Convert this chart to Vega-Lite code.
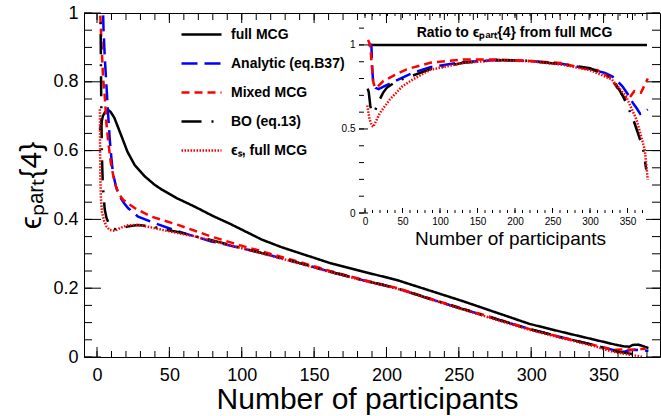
{
  "$schema": "https://vega.github.io/schema/vega-lite/v6.json",
  "width": 576,
  "height": 344,
  "autosize": {"type": "none"},
  "padding": {"left": 84, "top": 13, "right": 1, "bottom": 59},
  "background": "white",
  "config": {"view": {"stroke": "#000000", "strokeWidth": 1}, "axis": {"grid": false}},
  "datasets": {
    "xt_main": [
      {"v": 0}, {"v": 10}, {"v": 20}, {"v": 30}, {"v": 40}, {"v": 50}, {"v": 60}, {"v": 70}, {"v": 80}, {"v": 90},
      {"v": 100}, {"v": 110}, {"v": 120}, {"v": 130}, {"v": 140}, {"v": 150}, {"v": 160}, {"v": 170}, {"v": 180}, {"v": 190},
      {"v": 200}, {"v": 210}, {"v": 220}, {"v": 230}, {"v": 240}, {"v": 250}, {"v": 260}, {"v": 270}, {"v": 280}, {"v": 290},
      {"v": 300}, {"v": 310}, {"v": 320}, {"v": 330}, {"v": 340}, {"v": 350}, {"v": 360}, {"v": 370}, {"v": 380}
    ],
    "yt_main": [
      {"v": 0}, {"v": 0.05}, {"v": 0.1}, {"v": 0.15}, {"v": 0.2}, {"v": 0.25}, {"v": 0.3}, {"v": 0.35}, {"v": 0.4}, {"v": 0.45},
      {"v": 0.5}, {"v": 0.55}, {"v": 0.6}, {"v": 0.65}, {"v": 0.7}, {"v": 0.75}, {"v": 0.8}, {"v": 0.85}, {"v": 0.9}, {"v": 0.95}, {"v": 1}
    ],
    "yt_inset": [
      {"v": 0}, {"v": 0.1}, {"v": 0.2}, {"v": 0.3}, {"v": 0.4}, {"v": 0.5}, {"v": 0.6}, {"v": 0.7}, {"v": 0.8}, {"v": 0.9}, {"v": 1}, {"v": 1.1}
    ],
    "main": [
      {"series": "full MCG", "npart": 2, "eps": 0.66},
      {"series": "full MCG", "npart": 3, "eps": 0.68},
      {"series": "full MCG", "npart": 4, "eps": 0.7},
      {"series": "full MCG", "npart": 5.5, "eps": 0.712},
      {"series": "full MCG", "npart": 7.5, "eps": 0.719},
      {"series": "full MCG", "npart": 9.5, "eps": 0.712},
      {"series": "full MCG", "npart": 12, "eps": 0.695},
      {"series": "full MCG", "npart": 14.5, "eps": 0.668},
      {"series": "full MCG", "npart": 17, "eps": 0.641},
      {"series": "full MCG", "npart": 21, "eps": 0.597},
      {"series": "full MCG", "npart": 26, "eps": 0.558},
      {"series": "full MCG", "npart": 33, "eps": 0.525},
      {"series": "full MCG", "npart": 40, "eps": 0.5},
      {"series": "full MCG", "npart": 45, "eps": 0.486},
      {"series": "full MCG", "npart": 55, "eps": 0.462},
      {"series": "full MCG", "npart": 68, "eps": 0.436},
      {"series": "full MCG", "npart": 80, "eps": 0.41},
      {"series": "full MCG", "npart": 91, "eps": 0.389},
      {"series": "full MCG", "npart": 103, "eps": 0.364},
      {"series": "full MCG", "npart": 114, "eps": 0.341},
      {"series": "full MCG", "npart": 127, "eps": 0.32},
      {"series": "full MCG", "npart": 140, "eps": 0.302},
      {"series": "full MCG", "npart": 161, "eps": 0.273},
      {"series": "full MCG", "npart": 184, "eps": 0.248},
      {"series": "full MCG", "npart": 207, "eps": 0.224},
      {"series": "full MCG", "npart": 230, "eps": 0.193},
      {"series": "full MCG", "npart": 253, "eps": 0.162},
      {"series": "full MCG", "npart": 276, "eps": 0.129},
      {"series": "full MCG", "npart": 299, "eps": 0.096},
      {"series": "full MCG", "npart": 322, "eps": 0.072},
      {"series": "full MCG", "npart": 345, "eps": 0.049},
      {"series": "full MCG", "npart": 358, "eps": 0.036},
      {"series": "full MCG", "npart": 364, "eps": 0.031},
      {"series": "full MCG", "npart": 368, "eps": 0.03},
      {"series": "full MCG", "npart": 370, "eps": 0.035},
      {"series": "full MCG", "npart": 374, "eps": 0.036},
      {"series": "full MCG", "npart": 377, "eps": 0.032},
      {"series": "full MCG", "npart": 381, "eps": 0.026},

      {"series": "Analytic (eq.B37)", "npart": 3.8, "eps": 1.06},
      {"series": "Analytic (eq.B37)", "npart": 4.5, "eps": 0.95},
      {"series": "Analytic (eq.B37)", "npart": 5.5, "eps": 0.86},
      {"series": "Analytic (eq.B37)", "npart": 6.5, "eps": 0.79},
      {"series": "Analytic (eq.B37)", "npart": 7.6, "eps": 0.71},
      {"series": "Analytic (eq.B37)", "npart": 8.8, "eps": 0.632},
      {"series": "Analytic (eq.B37)", "npart": 10, "eps": 0.575},
      {"series": "Analytic (eq.B37)", "npart": 11, "eps": 0.535},
      {"series": "Analytic (eq.B37)", "npart": 13.4, "eps": 0.49},
      {"series": "Analytic (eq.B37)", "npart": 15.7, "eps": 0.467},
      {"series": "Analytic (eq.B37)", "npart": 18.5, "eps": 0.448},
      {"series": "Analytic (eq.B37)", "npart": 21.4, "eps": 0.433},
      {"series": "Analytic (eq.B37)", "npart": 28.4, "eps": 0.408},
      {"series": "Analytic (eq.B37)", "npart": 40, "eps": 0.389},
      {"series": "Analytic (eq.B37)", "npart": 56, "eps": 0.365},
      {"series": "Analytic (eq.B37)", "npart": 79, "eps": 0.336},
      {"series": "Analytic (eq.B37)", "npart": 91, "eps": 0.325},
      {"series": "Analytic (eq.B37)", "npart": 114, "eps": 0.302},
      {"series": "Analytic (eq.B37)", "npart": 140, "eps": 0.273},
      {"series": "Analytic (eq.B37)", "npart": 161, "eps": 0.248},
      {"series": "Analytic (eq.B37)", "npart": 185, "eps": 0.222},
      {"series": "Analytic (eq.B37)", "npart": 207, "eps": 0.2},
      {"series": "Analytic (eq.B37)", "npart": 230, "eps": 0.169},
      {"series": "Analytic (eq.B37)", "npart": 253, "eps": 0.139},
      {"series": "Analytic (eq.B37)", "npart": 276, "eps": 0.11},
      {"series": "Analytic (eq.B37)", "npart": 299, "eps": 0.081},
      {"series": "Analytic (eq.B37)", "npart": 322, "eps": 0.056},
      {"series": "Analytic (eq.B37)", "npart": 345, "eps": 0.033},
      {"series": "Analytic (eq.B37)", "npart": 352, "eps": 0.025},
      {"series": "Analytic (eq.B37)", "npart": 359, "eps": 0.018},
      {"series": "Analytic (eq.B37)", "npart": 364, "eps": 0.015},
      {"series": "Analytic (eq.B37)", "npart": 367, "eps": 0.019},
      {"series": "Analytic (eq.B37)", "npart": 371, "eps": 0.021},
      {"series": "Analytic (eq.B37)", "npart": 376, "eps": 0.02},
      {"series": "Analytic (eq.B37)", "npart": 381, "eps": 0.018},

      {"series": "Mixed MCG", "npart": 1.9, "eps": 1.03},
      {"series": "Mixed MCG", "npart": 3, "eps": 0.92},
      {"series": "Mixed MCG", "npart": 4.2, "eps": 0.81},
      {"series": "Mixed MCG", "npart": 5.3, "eps": 0.76},
      {"series": "Mixed MCG", "npart": 6.5, "eps": 0.68},
      {"series": "Mixed MCG", "npart": 7.6, "eps": 0.632},
      {"series": "Mixed MCG", "npart": 9.5, "eps": 0.565},
      {"series": "Mixed MCG", "npart": 12.2, "eps": 0.506},
      {"series": "Mixed MCG", "npart": 15, "eps": 0.475},
      {"series": "Mixed MCG", "npart": 18, "eps": 0.457},
      {"series": "Mixed MCG", "npart": 26, "eps": 0.433},
      {"series": "Mixed MCG", "npart": 37.6, "eps": 0.408},
      {"series": "Mixed MCG", "npart": 56, "eps": 0.384},
      {"series": "Mixed MCG", "npart": 79, "eps": 0.35},
      {"series": "Mixed MCG", "npart": 102, "eps": 0.321},
      {"series": "Mixed MCG", "npart": 114, "eps": 0.307},
      {"series": "Mixed MCG", "npart": 140, "eps": 0.276},
      {"series": "Mixed MCG", "npart": 161, "eps": 0.25},
      {"series": "Mixed MCG", "npart": 185, "eps": 0.223},
      {"series": "Mixed MCG", "npart": 207, "eps": 0.201},
      {"series": "Mixed MCG", "npart": 230, "eps": 0.17},
      {"series": "Mixed MCG", "npart": 253, "eps": 0.14},
      {"series": "Mixed MCG", "npart": 276, "eps": 0.111},
      {"series": "Mixed MCG", "npart": 299, "eps": 0.081},
      {"series": "Mixed MCG", "npart": 322, "eps": 0.056},
      {"series": "Mixed MCG", "npart": 345, "eps": 0.033},
      {"series": "Mixed MCG", "npart": 352, "eps": 0.026},
      {"series": "Mixed MCG", "npart": 358, "eps": 0.021},
      {"series": "Mixed MCG", "npart": 364, "eps": 0.022},
      {"series": "Mixed MCG", "npart": 370, "eps": 0.021},
      {"series": "Mixed MCG", "npart": 376, "eps": 0.023},
      {"series": "Mixed MCG", "npart": 379, "eps": 0.024},

      {"series": "BO (eq.13)", "npart": 2.3, "eps": 1.06},
      {"series": "BO (eq.13)", "npart": 2.7, "eps": 0.85},
      {"series": "BO (eq.13)", "npart": 3, "eps": 0.7},
      {"series": "BO (eq.13)", "npart": 3.4, "eps": 0.58},
      {"series": "BO (eq.13)", "npart": 4, "eps": 0.5},
      {"series": "BO (eq.13)", "npart": 5.3, "eps": 0.43},
      {"series": "BO (eq.13)", "npart": 6.5, "eps": 0.405},
      {"series": "BO (eq.13)", "npart": 8.8, "eps": 0.381},
      {"series": "BO (eq.13)", "npart": 11, "eps": 0.372},
      {"series": "BO (eq.13)", "npart": 15, "eps": 0.371},
      {"series": "BO (eq.13)", "npart": 21, "eps": 0.379},
      {"series": "BO (eq.13)", "npart": 28, "eps": 0.384},
      {"series": "BO (eq.13)", "npart": 38, "eps": 0.38},
      {"series": "BO (eq.13)", "npart": 45, "eps": 0.372},
      {"series": "BO (eq.13)", "npart": 55, "eps": 0.364},
      {"series": "BO (eq.13)", "npart": 68, "eps": 0.351},
      {"series": "BO (eq.13)", "npart": 91, "eps": 0.327},
      {"series": "BO (eq.13)", "npart": 114, "eps": 0.302},
      {"series": "BO (eq.13)", "npart": 140, "eps": 0.273},
      {"series": "BO (eq.13)", "npart": 161, "eps": 0.248},
      {"series": "BO (eq.13)", "npart": 185, "eps": 0.222},
      {"series": "BO (eq.13)", "npart": 207, "eps": 0.2},
      {"series": "BO (eq.13)", "npart": 230, "eps": 0.169},
      {"series": "BO (eq.13)", "npart": 253, "eps": 0.139},
      {"series": "BO (eq.13)", "npart": 276, "eps": 0.11},
      {"series": "BO (eq.13)", "npart": 299, "eps": 0.081},
      {"series": "BO (eq.13)", "npart": 322, "eps": 0.056},
      {"series": "BO (eq.13)", "npart": 345, "eps": 0.033},
      {"series": "BO (eq.13)", "npart": 352, "eps": 0.024},
      {"series": "BO (eq.13)", "npart": 359, "eps": 0.016},
      {"series": "BO (eq.13)", "npart": 365, "eps": 0.012},
      {"series": "BO (eq.13)", "npart": 370, "eps": 0.009},
      {"series": "BO (eq.13)", "npart": 375, "eps": 0.006},

      {"series": "ϵₛ, full MCG", "npart": 2, "eps": 0.72},
      {"series": "ϵₛ, full MCG", "npart": 2.1, "eps": 0.62},
      {"series": "ϵₛ, full MCG", "npart": 2.3, "eps": 0.52},
      {"series": "ϵₛ, full MCG", "npart": 2.7, "eps": 0.46},
      {"series": "ϵₛ, full MCG", "npart": 3.5, "eps": 0.42},
      {"series": "ϵₛ, full MCG", "npart": 5, "eps": 0.395},
      {"series": "ϵₛ, full MCG", "npart": 6.5, "eps": 0.38},
      {"series": "ϵₛ, full MCG", "npart": 8.8, "eps": 0.369},
      {"series": "ϵₛ, full MCG", "npart": 12.2, "eps": 0.367},
      {"series": "ϵₛ, full MCG", "npart": 16, "eps": 0.375},
      {"series": "ϵₛ, full MCG", "npart": 21.4, "eps": 0.383},
      {"series": "ϵₛ, full MCG", "npart": 28.4, "eps": 0.384},
      {"series": "ϵₛ, full MCG", "npart": 36, "eps": 0.378},
      {"series": "ϵₛ, full MCG", "npart": 44.5, "eps": 0.37},
      {"series": "ϵₛ, full MCG", "npart": 68, "eps": 0.35},
      {"series": "ϵₛ, full MCG", "npart": 91, "eps": 0.326},
      {"series": "ϵₛ, full MCG", "npart": 114, "eps": 0.301},
      {"series": "ϵₛ, full MCG", "npart": 140, "eps": 0.272},
      {"series": "ϵₛ, full MCG", "npart": 161, "eps": 0.247},
      {"series": "ϵₛ, full MCG", "npart": 185, "eps": 0.221},
      {"series": "ϵₛ, full MCG", "npart": 207, "eps": 0.199},
      {"series": "ϵₛ, full MCG", "npart": 230, "eps": 0.168},
      {"series": "ϵₛ, full MCG", "npart": 253, "eps": 0.138},
      {"series": "ϵₛ, full MCG", "npart": 276, "eps": 0.108},
      {"series": "ϵₛ, full MCG", "npart": 299, "eps": 0.079},
      {"series": "ϵₛ, full MCG", "npart": 322, "eps": 0.054},
      {"series": "ϵₛ, full MCG", "npart": 345, "eps": 0.03},
      {"series": "ϵₛ, full MCG", "npart": 352, "eps": 0.02},
      {"series": "ϵₛ, full MCG", "npart": 359, "eps": 0.013},
      {"series": "ϵₛ, full MCG", "npart": 366, "eps": 0.008},
      {"series": "ϵₛ, full MCG", "npart": 372, "eps": 0.004},
      {"series": "ϵₛ, full MCG", "npart": 377, "eps": 0.0}
    ],
    "ratio": [
      {"series": "full MCG", "npart": 4.5, "ratio": 1},
      {"series": "full MCG", "npart": 100, "ratio": 1},
      {"series": "full MCG", "npart": 200, "ratio": 1},
      {"series": "full MCG", "npart": 300, "ratio": 1},
      {"series": "full MCG", "npart": 376, "ratio": 1},

      {"series": "Analytic (eq.B37)", "npart": 5, "ratio": 1.0},
      {"series": "Analytic (eq.B37)", "npart": 8.5, "ratio": 1.0},
      {"series": "Analytic (eq.B37)", "npart": 9.7, "ratio": 0.86},
      {"series": "Analytic (eq.B37)", "npart": 11, "ratio": 0.765},
      {"series": "Analytic (eq.B37)", "npart": 14, "ratio": 0.745},
      {"series": "Analytic (eq.B37)", "npart": 18, "ratio": 0.737},
      {"series": "Analytic (eq.B37)", "npart": 24, "ratio": 0.75},
      {"series": "Analytic (eq.B37)", "npart": 31, "ratio": 0.765},
      {"series": "Analytic (eq.B37)", "npart": 45, "ratio": 0.795},
      {"series": "Analytic (eq.B37)", "npart": 64, "ratio": 0.835},
      {"series": "Analytic (eq.B37)", "npart": 87, "ratio": 0.868},
      {"series": "Analytic (eq.B37)", "npart": 131, "ratio": 0.898},
      {"series": "Analytic (eq.B37)", "npart": 175, "ratio": 0.91},
      {"series": "Analytic (eq.B37)", "npart": 220, "ratio": 0.905},
      {"series": "Analytic (eq.B37)", "npart": 264, "ratio": 0.886},
      {"series": "Analytic (eq.B37)", "npart": 300, "ratio": 0.857},
      {"series": "Analytic (eq.B37)", "npart": 320, "ratio": 0.833},
      {"series": "Analytic (eq.B37)", "npart": 330, "ratio": 0.812},
      {"series": "Analytic (eq.B37)", "npart": 343, "ratio": 0.755},
      {"series": "Analytic (eq.B37)", "npart": 350, "ratio": 0.71},
      {"series": "Analytic (eq.B37)", "npart": 357, "ratio": 0.656},
      {"series": "Analytic (eq.B37)", "npart": 362, "ratio": 0.625},
      {"series": "Analytic (eq.B37)", "npart": 367, "ratio": 0.59},
      {"series": "Analytic (eq.B37)", "npart": 372, "ratio": 0.6},
      {"series": "Analytic (eq.B37)", "npart": 377, "ratio": 0.616},

      {"series": "Mixed MCG", "npart": 4, "ratio": 1.03},
      {"series": "Mixed MCG", "npart": 7, "ratio": 1.0},
      {"series": "Mixed MCG", "npart": 9, "ratio": 0.88},
      {"series": "Mixed MCG", "npart": 11, "ratio": 0.78},
      {"series": "Mixed MCG", "npart": 13.3, "ratio": 0.745},
      {"series": "Mixed MCG", "npart": 17, "ratio": 0.752},
      {"series": "Mixed MCG", "npart": 24.4, "ratio": 0.785},
      {"series": "Mixed MCG", "npart": 40, "ratio": 0.822},
      {"series": "Mixed MCG", "npart": 55.5, "ratio": 0.855},
      {"series": "Mixed MCG", "npart": 87, "ratio": 0.894},
      {"series": "Mixed MCG", "npart": 131, "ratio": 0.914},
      {"series": "Mixed MCG", "npart": 175, "ratio": 0.914},
      {"series": "Mixed MCG", "npart": 220, "ratio": 0.905},
      {"series": "Mixed MCG", "npart": 260, "ratio": 0.893},
      {"series": "Mixed MCG", "npart": 295, "ratio": 0.857},
      {"series": "Mixed MCG", "npart": 310, "ratio": 0.85},
      {"series": "Mixed MCG", "npart": 327, "ratio": 0.805},
      {"series": "Mixed MCG", "npart": 344, "ratio": 0.695},
      {"series": "Mixed MCG", "npart": 351, "ratio": 0.676},
      {"series": "Mixed MCG", "npart": 359, "ratio": 0.725},
      {"series": "Mixed MCG", "npart": 368, "ratio": 0.716},
      {"series": "Mixed MCG", "npart": 377, "ratio": 0.8},

      {"series": "BO (eq.13)", "npart": 3.5, "ratio": 0.74},
      {"series": "BO (eq.13)", "npart": 5, "ratio": 0.72},
      {"series": "BO (eq.13)", "npart": 7, "ratio": 0.64},
      {"series": "BO (eq.13)", "npart": 9, "ratio": 0.595},
      {"series": "BO (eq.13)", "npart": 13, "ratio": 0.605},
      {"series": "BO (eq.13)", "npart": 18, "ratio": 0.66},
      {"series": "BO (eq.13)", "npart": 24, "ratio": 0.715},
      {"series": "BO (eq.13)", "npart": 29, "ratio": 0.745},
      {"series": "BO (eq.13)", "npart": 42, "ratio": 0.785},
      {"series": "BO (eq.13)", "npart": 64, "ratio": 0.818},
      {"series": "BO (eq.13)", "npart": 87, "ratio": 0.856},
      {"series": "BO (eq.13)", "npart": 131, "ratio": 0.894},
      {"series": "BO (eq.13)", "npart": 175, "ratio": 0.91},
      {"series": "BO (eq.13)", "npart": 220, "ratio": 0.905},
      {"series": "BO (eq.13)", "npart": 264, "ratio": 0.884},
      {"series": "BO (eq.13)", "npart": 300, "ratio": 0.862},
      {"series": "BO (eq.13)", "npart": 318, "ratio": 0.825},
      {"series": "BO (eq.13)", "npart": 330, "ratio": 0.8},
      {"series": "BO (eq.13)", "npart": 344, "ratio": 0.695},
      {"series": "BO (eq.13)", "npart": 357, "ratio": 0.565},
      {"series": "BO (eq.13)", "npart": 365, "ratio": 0.46},
      {"series": "BO (eq.13)", "npart": 371, "ratio": 0.377},
      {"series": "BO (eq.13)", "npart": 375, "ratio": 0.258},

      {"series": "ϵₛ, full MCG", "npart": 3, "ratio": 0.64},
      {"series": "ϵₛ, full MCG", "npart": 6, "ratio": 0.56},
      {"series": "ϵₛ, full MCG", "npart": 9, "ratio": 0.52},
      {"series": "ϵₛ, full MCG", "npart": 11, "ratio": 0.512},
      {"series": "ϵₛ, full MCG", "npart": 15, "ratio": 0.55},
      {"series": "ϵₛ, full MCG", "npart": 20, "ratio": 0.596},
      {"series": "ϵₛ, full MCG", "npart": 33, "ratio": 0.675},
      {"series": "ϵₛ, full MCG", "npart": 50, "ratio": 0.755},
      {"series": "ϵₛ, full MCG", "npart": 64, "ratio": 0.795},
      {"series": "ϵₛ, full MCG", "npart": 87, "ratio": 0.852},
      {"series": "ϵₛ, full MCG", "npart": 131, "ratio": 0.893},
      {"series": "ϵₛ, full MCG", "npart": 175, "ratio": 0.909},
      {"series": "ϵₛ, full MCG", "npart": 220, "ratio": 0.903},
      {"series": "ϵₛ, full MCG", "npart": 264, "ratio": 0.882},
      {"series": "ϵₛ, full MCG", "npart": 300, "ratio": 0.85},
      {"series": "ϵₛ, full MCG", "npart": 329, "ratio": 0.795},
      {"series": "ϵₛ, full MCG", "npart": 348, "ratio": 0.695},
      {"series": "ϵₛ, full MCG", "npart": 362, "ratio": 0.556},
      {"series": "ϵₛ, full MCG", "npart": 373, "ratio": 0.377},
      {"series": "ϵₛ, full MCG", "npart": 377, "ratio": 0.198}
    ]
  },
  "layer": [
    {
      "layer": [
        {
          "data": {"name": "main"},
          "mark": {"type": "line", "clip": true, "strokeWidth": 2.5},
          "encoding": {
            "x": {
              "field": "npart", "type": "quantitative",
              "scale": {"domain": [-9, 389], "nice": false, "zero": false},
              "axis": {
                "orient": "bottom",
                "values": [0, 50, 100, 150, 200, 250, 300, 350],
                "format": "d",
                "domain": false, "ticks": false,
                "labelFont": "Liberation Sans", "labelColor": "#000000",
                "labelFontSize": 18,
                "labelPadding": 9,
                "title": "Number of participants",
                "titleFont": "Liberation Sans", "titleColor": "#000000", "titleFontWeight": "normal",
                "titleFontSize": 30,
                "titleX": 283,
                "titleY": 51,
                "titleBaseline": "alphabetic"
              }
            },
            "y": {
              "field": "eps", "type": "quantitative",
              "scale": {"domain": [0, 1], "nice": false, "zero": false},
              "axis": {
                "orient": "left",
                "values": [0, 0.2, 0.4, 0.6, 0.8, 1],
                "labelExpr": "format(datum.value, '~g')",
                "domain": false, "ticks": false,
                "labelFont": "Liberation Sans", "labelColor": "#000000",
                "labelFontSize": 18,
                "labelPadding": 6,
                "title": "ϵₚₐᵣₜ{4}",
                "titleFont": "Liberation Sans", "titleColor": "#000000", "titleFontWeight": "normal",
                "titleFontSize": 30,
                "titleAngle": -90,
                "titleX": -44,
                "titleY": 172,
                "titleAlign": "center",
                "titleBaseline": "alphabetic"
              }
            },
            "color": {
              "field": "series", "type": "nominal",
              "scale": {
                "domain": ["full MCG", "Analytic (eq.B37)", "Mixed MCG", "BO (eq.13)", "ϵₛ, full MCG"],
                "range": ["#000000", "#0000ff", "#ff0000", "#000000", "#ff0000"]
              },
              "legend": {
                "title": null, "orient": "none", "legendX": 96, "legendY": 0,
                "symbolSize": 1600, "symbolStrokeWidth": 2.5,
                "labelFont": "Liberation Sans", "labelFontWeight": "bold", "labelFontSize": 14,
                "labelColor": "black", "labelOffset": 8, "rowPadding": -9.5
              }
            },
            "strokeDash": {
              "field": "series", "type": "nominal",
              "scale": {
                "domain": ["full MCG", "Analytic (eq.B37)", "Mixed MCG", "BO (eq.13)", "ϵₛ, full MCG"],
                "range": [[1, 0], [16, 7], [8, 5], [20, 10, 2, 10], [1.5, 1.5]]
              },
              "legend": {
                "title": null, "orient": "none", "legendX": 96, "legendY": 0,
                "symbolSize": 1600, "symbolStrokeWidth": 2.5,
                "labelFont": "Liberation Sans", "labelFontWeight": "bold", "labelFontSize": 14,
                "labelColor": "black", "labelOffset": 8, "rowPadding": -9.5
              }
            }
          }
        },
        {
          "data": {"name": "xt_main"},
          "transform": [{"filter": "datum.v % 50 === 0"}],
          "mark": {"type": "rule", "color": "#000000", "strokeWidth": 1, "y2Offset": -10},
          "encoding": {
            "x": {"field": "v", "type": "quantitative", "axis": null},
            "y": {"datum": 0, "type": "quantitative", "axis": null},
            "y2": {"datum": 0}
          }
        },
        {
          "data": {"name": "xt_main"},
          "mark": {"type": "rule", "color": "#000000", "strokeWidth": 1, "y2Offset": -6},
          "encoding": {
            "x": {"field": "v", "type": "quantitative", "axis": null},
            "y": {"datum": 0, "type": "quantitative", "axis": null},
            "y2": {"datum": 0}
          }
        },
        {
          "data": {"name": "xt_main"},
          "transform": [{"filter": "datum.v % 50 === 0"}],
          "mark": {"type": "rule", "color": "#000000", "strokeWidth": 1, "y2Offset": 10},
          "encoding": {
            "x": {"field": "v", "type": "quantitative", "axis": null},
            "y": {"datum": 1, "type": "quantitative", "axis": null},
            "y2": {"datum": 1}
          }
        },
        {
          "data": {"name": "xt_main"},
          "mark": {"type": "rule", "color": "#000000", "strokeWidth": 1, "y2Offset": 7},
          "encoding": {
            "x": {"field": "v", "type": "quantitative", "axis": null},
            "y": {"datum": 1, "type": "quantitative", "axis": null},
            "y2": {"datum": 1}
          }
        },
        {
          "data": {"name": "yt_main"},
          "transform": [{"filter": "abs(datum.v*5 - round(datum.v*5)) < 0.000001"}],
          "mark": {"type": "rule", "color": "#000000", "strokeWidth": 1, "x2Offset": 17},
          "encoding": {
            "y": {"field": "v", "type": "quantitative", "axis": null},
            "x": {"datum": -9, "type": "quantitative", "axis": null},
            "x2": {"datum": -9}
          }
        },
        {
          "data": {"name": "yt_main"},
          "mark": {"type": "rule", "color": "#000000", "strokeWidth": 1, "x2Offset": 8},
          "encoding": {
            "y": {"field": "v", "type": "quantitative", "axis": null},
            "x": {"datum": -9, "type": "quantitative", "axis": null},
            "x2": {"datum": -9}
          }
        },
        {
          "data": {"name": "yt_main"},
          "transform": [{"filter": "abs(datum.v*5 - round(datum.v*5)) < 0.000001"}],
          "mark": {"type": "rule", "color": "#000000", "strokeWidth": 1, "x2Offset": -14},
          "encoding": {
            "y": {"field": "v", "type": "quantitative", "axis": null},
            "x": {"datum": 389, "type": "quantitative", "axis": null},
            "x2": {"datum": 389}
          }
        },
        {
          "data": {"name": "yt_main"},
          "mark": {"type": "rule", "color": "#000000", "strokeWidth": 1, "x2Offset": -8},
          "encoding": {
            "y": {"field": "v", "type": "quantitative", "axis": null},
            "x": {"datum": 389, "type": "quantitative", "axis": null},
            "x2": {"datum": 389}
          }
        }
      ],
      "resolve": {"axis": {"x": "independent", "y": "independent"}}
    },
    {
      "layer": [
        {
          "data": {"name": "ratio"},
          "mark": {"type": "line", "clip": true, "strokeWidth": 2.5},
          "encoding": {
            "x": {
              "field": "npart", "type": "quantitative",
              "scale": {"domain": [-8, 380], "range": [275, 566], "nice": false, "zero": false},
              "axis": {
                "orient": "bottom",
                "offset": -144,
                "values": [0, 50, 100, 150, 200, 250, 300, 350],
                "format": "d",
                "domain": false, "ticks": false,
                "labelFont": "Liberation Sans", "labelColor": "#000000",
                "labelFontSize": 10,
                "labelPadding": 3,
                "title": "Number of participants",
                "titleFont": "Liberation Sans", "titleColor": "#000000", "titleFontWeight": "normal",
                "titleFontSize": 19,
                "titleX": 426,
                "titleY": 31,
                "titleBaseline": "alphabetic"
              }
            },
            "y": {
              "field": "ratio", "type": "quantitative",
              "scale": {"domain": [0, 1.19], "range": [200, 0], "nice": false, "zero": false},
              "axis": {
                "orient": "left",
                "offset": -275,
                "values": [0, 0.5, 1],
                "labelExpr": "format(datum.value, '~g')",
                "domain": false, "ticks": false,
                "labelFont": "Liberation Sans", "labelColor": "#000000",
                "labelFontSize": 10,
                "labelPadding": 4,
                "title": "Ratio to ϵₚₐᵣₜ{4} from full MCG",
                "titleFont": "Liberation Sans", "titleColor": "#000000",
                "titleFontSize": 14, "titleFontWeight": "bold",
                "titleAngle": 0,
                "titleX": 155,
                "titleY": 23,
                "titleAlign": "center",
                "titleBaseline": "alphabetic"
              }
            },
            "color": {
              "field": "series", "type": "nominal",
              "scale": {
                "domain": ["full MCG", "Analytic (eq.B37)", "Mixed MCG", "BO (eq.13)", "ϵₛ, full MCG"],
                "range": ["#000000", "#0000ff", "#ff0000", "#000000", "#ff0000"]
              },
              "legend": null
            },
            "strokeDash": {
              "field": "series", "type": "nominal",
              "scale": {
                "domain": ["full MCG", "Analytic (eq.B37)", "Mixed MCG", "BO (eq.13)", "ϵₛ, full MCG"],
                "range": [[1, 0], [16, 7], [8, 5], [20, 10, 2, 10], [1.5, 1.5]]
              },
              "legend": null
            }
          }
        },
        {
          "mark": {"type": "rule", "color": "#000000", "strokeWidth": 1},
          "encoding": {
            "x": {"datum": -8, "type": "quantitative", "axis": null},
            "y": {"datum": 0, "type": "quantitative", "axis": null},
            "y2": {"datum": 1.19}
          }
        },
        {
          "mark": {"type": "rule", "color": "#000000", "strokeWidth": 1},
          "encoding": {
            "x": {"datum": -8, "type": "quantitative", "axis": null},
            "x2": {"datum": 380},
            "y": {"datum": 0, "type": "quantitative", "axis": null}
          }
        },
        {
          "data": {"name": "xt_main"},
          "transform": [{"filter": "datum.v % 50 === 0 && datum.v <= 370"}],
          "mark": {"type": "rule", "color": "#000000", "strokeWidth": 1, "y2Offset": -5},
          "encoding": {
            "x": {"field": "v", "type": "quantitative", "axis": null},
            "y": {"datum": 0, "type": "quantitative", "axis": null},
            "y2": {"datum": 0}
          }
        },
        {
          "data": {"name": "xt_main"},
          "transform": [{"filter": "datum.v <= 370"}],
          "mark": {"type": "rule", "color": "#000000", "strokeWidth": 1, "y2Offset": -3},
          "encoding": {
            "x": {"field": "v", "type": "quantitative", "axis": null},
            "y": {"datum": 0, "type": "quantitative", "axis": null},
            "y2": {"datum": 0}
          }
        },
        {
          "data": {"name": "xt_main"},
          "transform": [{"filter": "datum.v % 50 === 0 && datum.v <= 370"}],
          "mark": {"type": "rule", "color": "#000000", "strokeWidth": 1, "y2Offset": 5},
          "encoding": {
            "x": {"field": "v", "type": "quantitative", "axis": null},
            "y": {"datum": 1.19, "type": "quantitative", "axis": null},
            "y2": {"datum": 1.19}
          }
        },
        {
          "data": {"name": "xt_main"},
          "transform": [{"filter": "datum.v <= 370"}],
          "mark": {"type": "rule", "color": "#000000", "strokeWidth": 1, "y2Offset": 3},
          "encoding": {
            "x": {"field": "v", "type": "quantitative", "axis": null},
            "y": {"datum": 1.19, "type": "quantitative", "axis": null},
            "y2": {"datum": 1.19}
          }
        },
        {
          "data": {"name": "yt_inset"},
          "transform": [{"filter": "abs(datum.v*2 - round(datum.v*2)) < 0.000001"}],
          "mark": {"type": "rule", "color": "#000000", "strokeWidth": 1, "x2Offset": 9},
          "encoding": {
            "y": {"field": "v", "type": "quantitative", "axis": null},
            "x": {"datum": -8, "type": "quantitative", "axis": null},
            "x2": {"datum": -8}
          }
        },
        {
          "data": {"name": "yt_inset"},
          "mark": {"type": "rule", "color": "#000000", "strokeWidth": 1, "x2Offset": 5},
          "encoding": {
            "y": {"field": "v", "type": "quantitative", "axis": null},
            "x": {"datum": -8, "type": "quantitative", "axis": null},
            "x2": {"datum": -8}
          }
        }
      ],
      "resolve": {"axis": {"x": "independent", "y": "independent"}}
    }
  ],
  "resolve": {
    "scale": {"x": "independent", "y": "independent"},
    "axis": {"x": "independent", "y": "independent"}
  }
}
